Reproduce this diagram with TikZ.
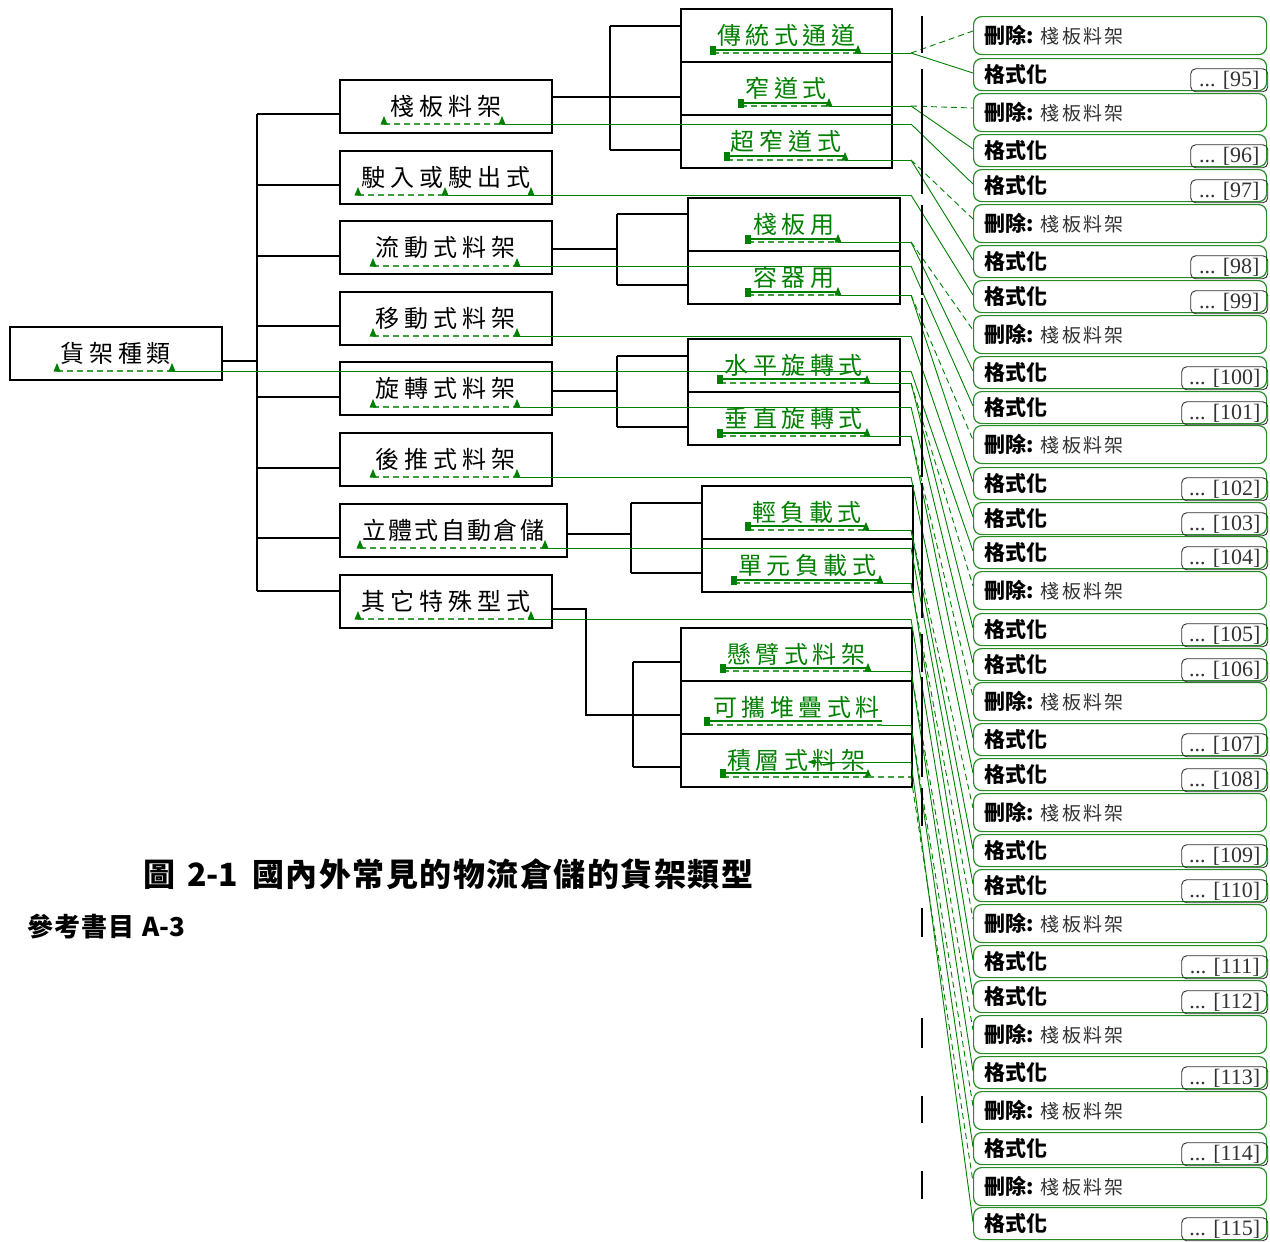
\documentclass[tikz,border=0pt]{standalone}
\usepackage{fontspec}
\newfontfamily\cjk{Noto Sans CJK TC}
\newfontfamily\lser{Liberation Serif}
\usetikzlibrary{calc,arrows.meta}
\definecolor{gline}{RGB}{0,128,0}
\definecolor{gdash}{RGB}{60,160,60}
\definecolor{balbd}{RGB}{40,140,40}
\definecolor{dgrey}{RGB}{50,50,50}
\makeatletter
\newcommand\spc[2]{\def\spc@amt{#1}\spc@a#2\@nil}
\def\spc@a#1#2\@nil{#1\ifx\relax#2\relax\else\hspace{\spc@amt}\spc@a#2\@nil\fi}
\makeatother
\newcommand\deltext{{\cjk\bfseries\fontsize{21pt}{21pt}\selectfont 刪除:}\hspace{7pt}{\cjk\fontsize{19pt}{19pt}\selectfont\color{dgrey}\spc{2.3pt}{棧板料架}}}
\newcommand\fmttext{{\cjk\bfseries\fontsize{21pt}{21pt}\selectfont 格式化}}
\newcommand\tri[2]{\fill[gline] (#1-3.5,#2+0.5) -- (#1+3.5,#2+0.5) -- (#1,#2-8) -- cycle;}
\newcommand\lmark[2]{\fill[gline] (#1-3,#2-4) rectangle (#1+3,#2+5);}
\newcommand\ulB[4]{\draw[uldash] (#1,#4) -- (#2,#4); \draw[ulsolid] (#1,#3) -- (#2,#3); \lmark{#1}{#3}\tri{#2}{#4}}
\newcommand\ulA[3]{\draw[uldash] (#1,#3) -- (#2,#3); \tri{#1}{#3}\tri{#2}{#3}}
\tikzset{
 box/.style={draw=black, line width=1.5pt, inner sep=0pt, minimum height=53pt, anchor=north west, font=\cjk\fontsize{24pt}{26pt}\selectfont},
 gbox/.style={box, text=gline},
 conn/.style={line width=1.5pt, black},
 uldash/.style={gdash, dash pattern=on 6pt off 4pt, line width=1.2pt},
 ulsolid/.style={gline, line width=1.8pt},
 lead/.style={gline, line width=0.9pt},
 leaddel/.style={gline, line width=0.9pt, dash pattern=on 6pt off 4pt},
 delbal/.style={draw=balbd, line width=1.2pt, rounded corners=8pt, fill=white, anchor=north west, minimum width=293pt, minimum height=38pt, text width=271pt, inner xsep=11pt, inner ysep=0pt, align=left},
 fmtbal/.style={delbal, minimum height=32pt},
 refbox/.style={draw=dgrey, line width=0.9pt, rounded corners=5pt, anchor=south east, minimum height=23pt, inner sep=0pt, text=dgrey, font=\lser\fontsize{22pt}{22pt}\selectfont},
 cbar/.style={black, line width=2pt},
}
\begin{document}
\begin{tikzpicture}[x=1pt,y=-1pt]
\useasboundingbox[fill=white] (0,0) rectangle (1270,1242);
% ---------- tree boxes
\node[box, minimum width=212pt] (R) at (9,326) {\spc{4.7pt}{貨架種類}};
\node[box, minimum width=212pt] (L1a) at (339,79) {\spc{5pt}{棧板料架}};
\node[box, minimum width=212pt] (L1b) at (339,150) {\spc{5pt}{駛入或駛出式}};
\node[box, minimum width=212pt] (L1c) at (339,220) {\spc{5pt}{流動式料架}};
\node[box, minimum width=212pt] (L1d) at (339,291) {\spc{5pt}{移動式料架}};
\node[box, minimum width=212pt] (L1e) at (339,361) {\spc{5pt}{旋轉式料架}};
\node[box, minimum width=212pt] (L1f) at (339,432) {\spc{5pt}{後推式料架}};
\node[box, minimum width=227pt] (L1g) at (339,503) {\spc{2.3pt}{立體式自動倉儲}};
\node[box, minimum width=212pt] (L1h) at (339,574) {\spc{5pt}{其它特殊型式}};
\node[gbox, minimum width=211pt] (A1) at (680,8) {\spc{4.5pt}{傳統式通道}};
\node[gbox, minimum width=211pt] (A2) at (680,61) {\spc{4.5pt}{窄道式}};
\node[gbox, minimum width=211pt] (A3) at (680,114) {\spc{5pt}{超窄道式}};
\node[gbox, minimum width=212pt] (B1) at (687,197) {\spc{4.5pt}{棧板用}};
\node[gbox, minimum width=212pt] (B2) at (687,250) {\spc{4.5pt}{容器用}};
\node[gbox, minimum width=212pt] (C1) at (687,338) {\spc{4.5pt}{水平旋轉式}};
\node[gbox, minimum width=212pt] (C2) at (687,391) {\spc{4.5pt}{垂直旋轉式}};
\node[gbox, minimum width=211pt] (D1) at (701,485) {\spc{4.5pt}{輕負載式}};
\node[gbox, minimum width=211pt] (D2) at (701,538) {\spc{4.5pt}{單元負載式}};
\node[gbox, minimum width=231pt] (E1) at (680,627) {\spc{4.5pt}{懸臂式料架}};
\node[gbox, minimum width=231pt] (E2) at (680,680) {\spc{4.5pt}{可攜堆疊式料}};
\node[gbox, minimum width=231pt] (E3) at (680,733) {\spc{4.5pt}{積層式料架}};
% ---------- black connectors
\coordinate (T0) at (257,361);
\draw[conn] (R.east |- T0) -- (T0);
\draw[conn] (257,114) -- (257,591);
\foreach \n/\y in {L1a/114, L1b/185, L1c/256, L1d/326, L1e/397, L1f/468, L1g/538, L1h/591}
  {\coordinate (t\n) at (257,\y); \draw[conn] (t\n) -- (t\n -| \n.west);}
% group A
\coordinate (ga0) at (610,97); \draw[conn] (ga0 -| L1a.east) -- (ga0);
\draw[conn] (610,26) -- (610,150);
\foreach \n/\y in {A1/26, A2/97, A3/150} {\coordinate (g\n) at (610,\y); \draw[conn] (g\n) -- (g\n -| \n.west);}
% group B
\coordinate (gb0) at (617,249); \draw[conn] (gb0 -| L1c.east) -- (gb0);
\draw[conn] (617,214) -- (617,285);
\foreach \n/\y in {B1/214, B2/285} {\coordinate (g\n) at (617,\y); \draw[conn] (g\n) -- (g\n -| \n.west);}
% group C
\coordinate (gc0) at (617,391); \draw[conn] (gc0 -| L1e.east) -- (gc0);
\draw[conn] (617,356) -- (617,427);
\foreach \n/\y in {C1/356, C2/427} {\coordinate (g\n) at (617,\y); \draw[conn] (g\n) -- (g\n -| \n.west);}
% group D
\coordinate (gd0) at (631,534); \draw[conn] (gd0 -| L1g.east) -- (gd0);
\draw[conn] (631,503) -- (631,573);
\foreach \n/\y in {D1/503, D2/573} {\coordinate (g\n) at (631,\y); \draw[conn] (g\n) -- (g\n -| \n.west);}
% group E
\coordinate (ge0) at (586,609); \coordinate (ge1) at (633,715);
\draw[conn] (ge0 -| L1h.east) -- (ge0) |- (ge1);
\draw[conn] (633,662) -- (633,767);
\foreach \n/\y in {E1/662, E2/715, E3/767} {\coordinate (g\n) at (633,\y); \draw[conn] (g\n) -- (g\n -| \n.west);}
% ---------- insertion underlines
\ulA{57}{172}{371}
\ulA{384}{502}{124}
\ulA{358}{445}{195}\tri{531}{195}
\ulA{373}{517}{266}
\ulA{373}{517}{336}
\ulA{373}{517}{407}
\ulA{373}{517}{477}
\ulA{360}{545}{548}
\ulA{358}{531}{619}
\ulB{713}{858}{50}{53}
\ulB{741}{829}{103}{106}
\ulB{727}{845}{156}{160}
\ulB{748}{838}{239}{242}
\ulB{748}{838}{292}{295}
\ulB{720}{867}{379}{383}
\ulB{720}{867}{433}{436}
\ulB{748}{866}{526}{530}
\ulB{734}{880}{580}{583}
\ulB{723}{868}{668}{671}
\draw[uldash] (707,725) -- (882,725); \draw[ulsolid] (707,721) -- (882,721); \lmark{707}{721}
\ulB{723}{868}{773}{777}
% ---------- balloons
\node[delbal] (d1) at (973,16) {\deltext};
\node[fmtbal] (f95) at (973,58) {\fmttext};
\node[delbal] (d2) at (973,93) {\deltext};
\node[fmtbal] (f96) at (973,134) {\fmttext};
\node[fmtbal] (f97) at (973,169) {\fmttext};
\node[delbal] (d3) at (973,204) {\deltext};
\node[fmtbal] (f98) at (973,245) {\fmttext};
\node[fmtbal] (f99) at (973,280) {\fmttext};
\node[delbal] (d4) at (973,315) {\deltext};
\node[fmtbal] (f100) at (973,356) {\fmttext};
\node[fmtbal] (f101) at (973,391) {\fmttext};
\node[delbal] (d5) at (973,425) {\deltext};
\node[fmtbal] (f102) at (973,467) {\fmttext};
\node[fmtbal] (f103) at (973,502) {\fmttext};
\node[fmtbal] (f104) at (973,536) {\fmttext};
\node[delbal] (d6) at (973,571) {\deltext};
\node[fmtbal] (f105) at (973,613) {\fmttext};
\node[fmtbal] (f106) at (973,648) {\fmttext};
\node[delbal] (d7) at (973,682) {\deltext};
\node[fmtbal] (f107) at (973,723) {\fmttext};
\node[fmtbal] (f108) at (973,758) {\fmttext};
\node[delbal] (d8) at (973,793) {\deltext};
\node[fmtbal] (f109) at (973,834) {\fmttext};
\node[fmtbal] (f110) at (973,869) {\fmttext};
\node[delbal] (d9) at (973,904) {\deltext};
\node[fmtbal] (f111) at (973,945) {\fmttext};
\node[fmtbal] (f112) at (973,980) {\fmttext};
\node[delbal] (d10) at (973,1015) {\deltext};
\node[fmtbal] (f113) at (973,1056) {\fmttext};
\node[delbal] (d11) at (973,1091) {\deltext};
\node[fmtbal] (f114) at (973,1132) {\fmttext};
\node[delbal] (d12) at (973,1167) {\deltext};
\node[fmtbal] (f115) at (973,1207) {\fmttext};
\foreach \k in {95,96,97,98,99}
  {\node[refbox, minimum width=77pt] (r\k) at ($(f\k.south east)+(1,1)$) {... [\k]};}
\foreach \k in {100,101,102,103,104,105,106,107,108,109,110,111,112,113,114,115}
  {\node[refbox, minimum width=86pt] (r\k) at ($(f\k.south east)+(1,1)$) {... [\k]};}
% ---------- leaders
\coordinate (brk) at (911,0);
\foreach \s/\x/\y in {sA1/858/53, sA2/829/106, sa/502/124, sA3/845/160, sb/445/195, sB1/838/242, sc/517/266, sB2/838/295, sd/517/336, sR/172/371, sC1/867/383, se/517/407, sC2/867/436, sf/517/477, sD1/866/530, sg/545/548, sD2/880/583, sh/531/619, sE1/868/671, sE2/882/725}
  {\coordinate (\s) at (\x,\y); \draw[lead] (\s) -- (\s -| brk);}
\coordinate (sE3) at (868,777); \draw[uldash] (sE3) -- (sE3 -| brk);
\coordinate (sE3f) at (807,762); \draw[lead, {Latex[length=8pt,width=6pt]}-] (sE3f) -- (sE3f -| brk);
\foreach \s/\t in {sA1/d1, sA2/d2, sA3/d3, sB1/d4, sB2/d5, sC1/d6, sC2/d7, sD1/d8, sD2/d9, sE1/d10, sE2/d11, sE3/d12}
  {\draw[leaddel] (\s -| brk) -- ($(\t.north west)+(0,15)$);}
\foreach \s/\t in {sA1/f95, sA2/f96, sa/f97, sA3/f98, sb/f99, sB1/f100, sc/f101, sB2/f102, sd/f103, sR/f104, sC1/f105, se/f106, sC2/f107, sf/f108, sD1/f109, sg/f110, sD2/f111, sh/f112, sE1/f113, sE2/f114, sE3f/f115}
  {\draw[lead] (\s -| brk) -- ($(\t.north west)+(0,15)$);}
% ---------- change bars
\foreach \a/\b in {16/53, 69/194, 205/295, 298/477, 483/618, 634/672, 677/777, 788/826, 908/937, 1018/1048, 1096/1123, 1171/1199}
  {\draw[cbar] (922,\a) -- (922,\b);}
% ---------- caption
\node[anchor=west, inner sep=0pt, font=\cjk\bfseries\fontsize{32pt}{32pt}\selectfont] (cap) at (143,874)
  {\spc{1.5pt}{圖}\hspace{12pt}2-1\hspace{14pt}\spc{1.5pt}{國內外常見的物流倉儲的貨架類型}};
\node[anchor=west, inner sep=0pt, font=\cjk\bfseries\fontsize{26pt}{26pt}\selectfont] (refs) at (27,927)
  {\spc{1pt}{參考書目}\hspace{8pt}A-3};
\end{tikzpicture}
\end{document}
